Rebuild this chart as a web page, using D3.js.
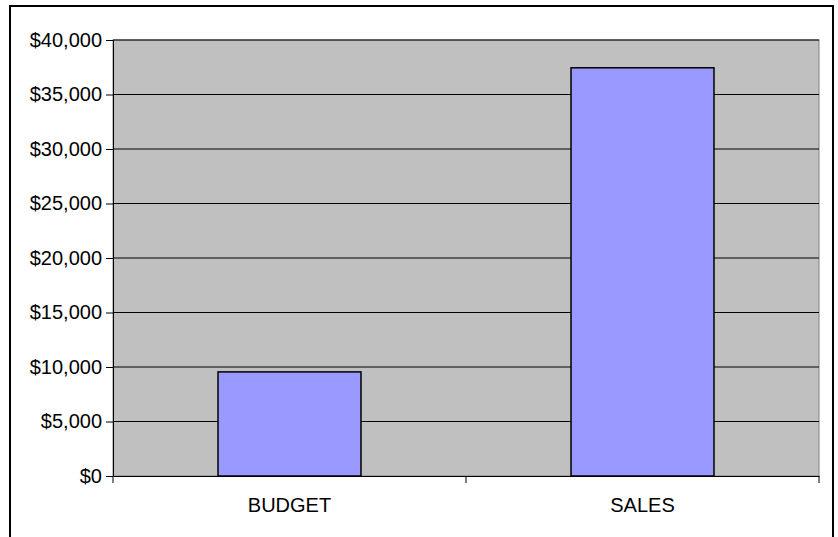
<!DOCTYPE html>
<html>
<head>
<meta charset="utf-8">
<script src="https://cdn.jsdelivr.net/npm/d3@7/dist/d3.min.js"></script>
<style>
  html, body { margin: 0; padding: 0; background: #fff; }
  svg { display: block; }
  text { font-family: "Liberation Sans", Arial, sans-serif; }
</style>
</head>
<body>
<svg id="chart" width="838" height="537"></svg>
<script>
const categories = ["BUDGET", "SALES"];
const values = [9550, 37450];
const yTicks = [0, 5000, 10000, 15000, 20000, 25000, 30000, 35000, 40000];

(function () {
const svg = d3.select("#chart");
const pLeft = 113, pRight = 819, pTop = 40, pBottom = 476;

// outer border (bottom edge lies beyond the picture)
svg.append("rect")
  .attr("x", 10).attr("y", 6)
  .attr("width", 823).attr("height", 560)
  .attr("fill", "#fff").attr("stroke", "#000").attr("stroke-width", 2);

const x = d3.scaleBand().domain(categories).range([pLeft, pRight]).paddingInner(0).paddingOuter(0);
const y = d3.scaleLinear().domain([0, 40000]).range([pBottom, pTop]);

// plot area
svg.append("rect")
  .attr("x", pLeft).attr("y", pTop)
  .attr("width", pRight - pLeft).attr("height", pBottom - pTop)
  .attr("fill", "#C0C0C0").attr("stroke", "#808080").attr("stroke-width", 1);

// gridlines
svg.append("g").selectAll("line")
  .data(yTicks.filter(d => d > 0))
  .join("line")
  .attr("x1", pLeft).attr("x2", pRight)
  .attr("y1", d => y(d)).attr("y2", d => y(d))
  .attr("stroke", "#000").attr("stroke-width", 1);

// bars
const barFrac = 0.405;
svg.append("g").selectAll("rect")
  .data(categories)
  .join("rect")
  .attr("x", (d) => x(d) + x.bandwidth() * (1 - barFrac) / 2)
  .attr("width", x.bandwidth() * barFrac)
  .attr("y", (d, i) => y(values[i]))
  .attr("height", (d, i) => y(0) - y(values[i]))
  .attr("fill", "#9999FF").attr("stroke", "#000").attr("stroke-width", 1.5);

// y axis
const yAxis = d3.axisLeft(y).tickValues(yTicks).tickSize(7).tickPadding(4)
  .tickFormat(d => "$" + d3.format(",")(d));
const gy = svg.append("g").attr("transform", `translate(${pLeft},0)`).call(yAxis);
gy.select(".domain").attr("stroke", "#000");
gy.selectAll(".tick line").attr("stroke", "#000");
gy.selectAll("text").attr("font-size", 20).attr("fill", "#000")
  .attr("font-family", "Liberation Sans, Arial, sans-serif");

// x axis
const xAxis = d3.axisBottom(x).tickSize(0).tickPadding(22);
const gx = svg.append("g").attr("transform", `translate(0,${pBottom})`).call(xAxis);
gx.select(".domain").attr("stroke", "#000");
gx.selectAll("text").attr("font-size", 20).attr("fill", "#000")
  .attr("font-family", "Liberation Sans, Arial, sans-serif");

// x tick marks at category boundaries
const bounds = [pLeft, pLeft + x.bandwidth(), pRight];
svg.append("g").selectAll("line")
  .data(bounds)
  .join("line")
  .attr("x1", d => d).attr("x2", d => d)
  .attr("y1", pBottom).attr("y2", pBottom + 7)
  .attr("stroke", "#000").attr("stroke-width", 1);
})();
</script>
</body>
</html>
